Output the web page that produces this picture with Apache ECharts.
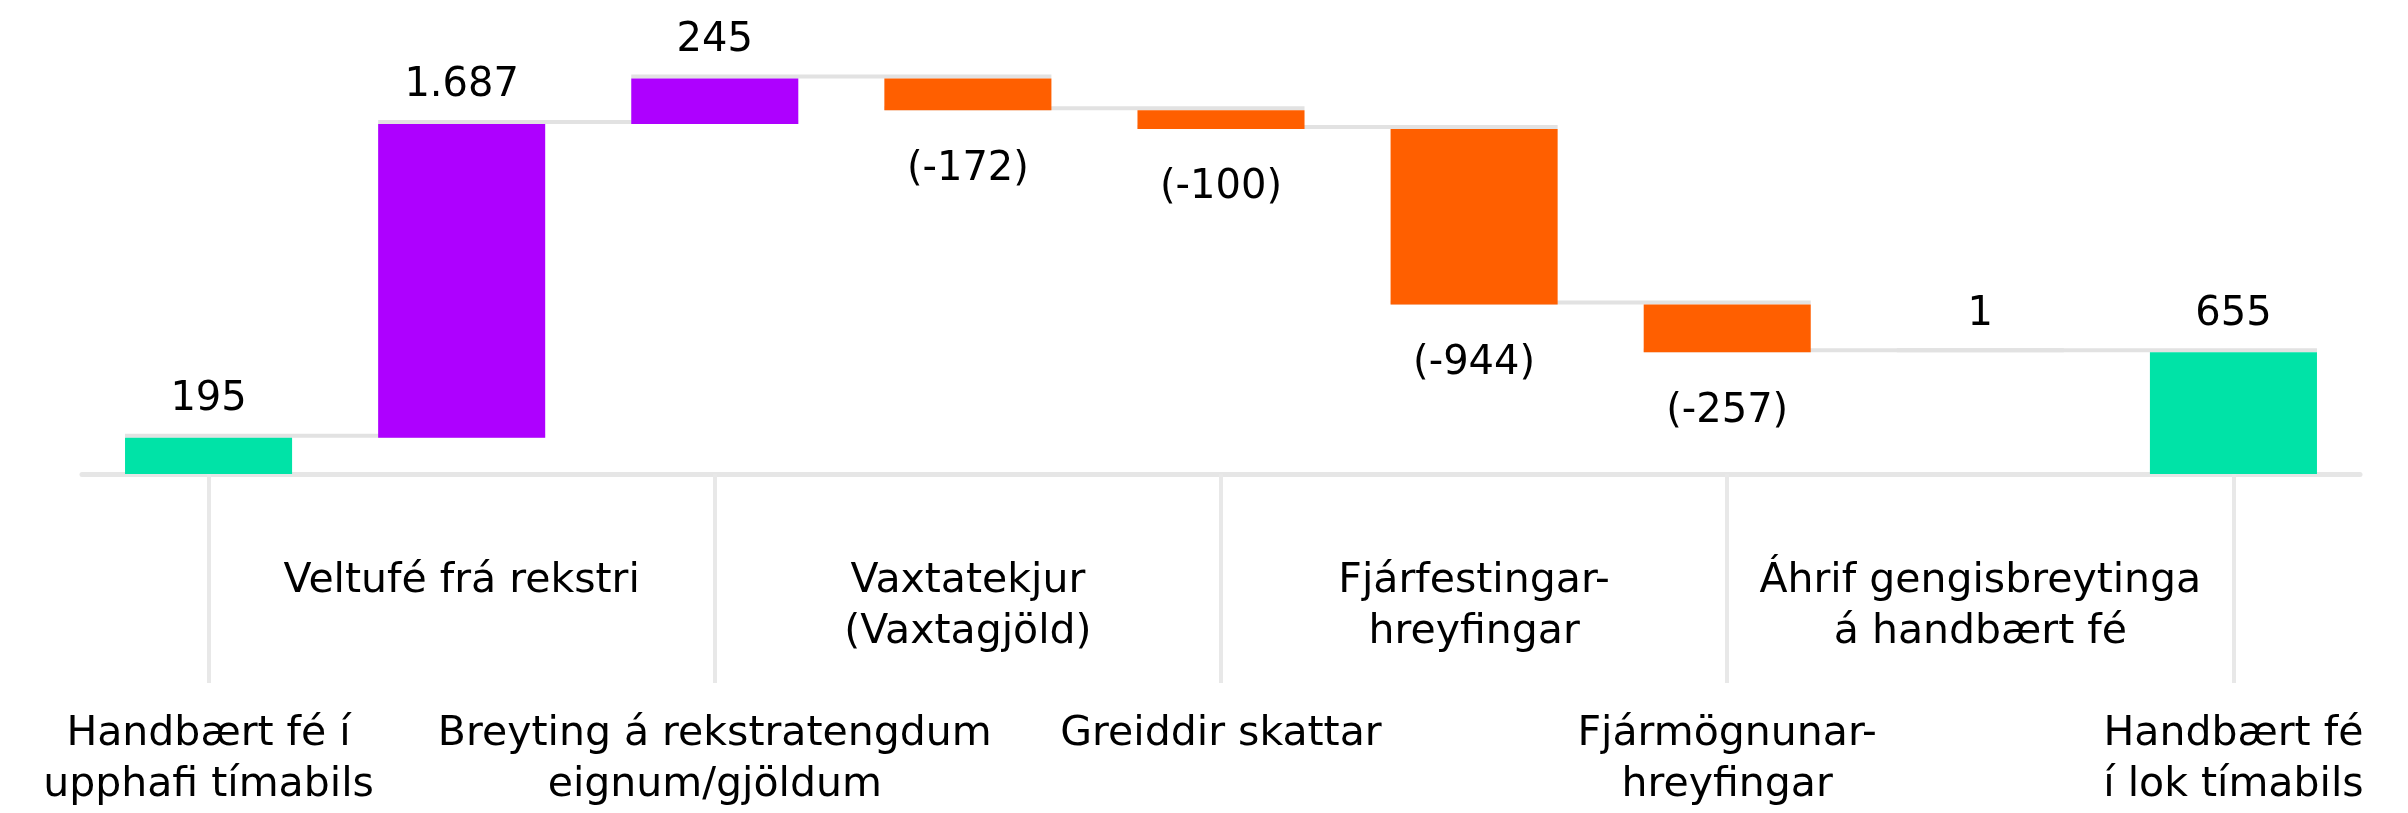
<!DOCTYPE html>
<html>
<head>
<meta charset="utf-8">
<script src="https://cdn.jsdelivr.net/npm/echarts@6/dist/echarts.min.js"></script>
<style>
html,body{margin:0;padding:0;background:#fff;}
#c{width:2408px;height:813px;}
</style>
</head>
<body>
<div id="c"></div>
<script>
const categories = [
  "Handbært fé í\nupphafi tímabils",
  "Veltufé frá rekstri",
  "Breyting á rekstratengdum\neignum/gjöldum",
  "Vaxtatekjur\n(Vaxtagjöld)",
  "Greiddir skattar",
  "Fjárfestingar-\nhreyfingar",
  "Fjármögnunar-\nhreyfingar",
  "Áhrif gengisbreytinga\ná handbært fé",
  "Handbært fé\ní lok tímabils"
];
const values = [195, 1687, 245, -172, -100, -944, -257, 1, 655];
const isTotal = [true, false, false, false, false, false, false, false, true];

const COLOR_TOTAL = '#00E3A7';
const COLOR_UP = '#AE00FF';
const COLOR_DOWN = '#FF5F00';
const FONT = 'DejaVu Sans';

// derived waterfall geometry (values only)
const base = [], height = [], levels = [];
let cum = 0;
values.forEach((v, i) => {
  if (isTotal[i]) {
    base.push(0); height.push(v); cum = v;
  } else if (v >= 0) {
    base.push(cum); height.push(v); cum += v;
  } else {
    base.push(cum + v); height.push(-v); cum += v;
  }
  levels.push(cum);
});

function fmt(v) {
  const s = Math.abs(v).toString().replace(/\B(?=(\d{3})+(?!\d))/g, '.');
  return v < 0 ? '(-' + s + ')' : s;
}

const chart = echarts.init(document.getElementById('c'));
chart.setOption({
  animation: false,
  grid: { left: 82, right: 48, top: 9, bottom: 339, containLabel: false },
  xAxis: {
    type: 'category',
    data: categories,
    axisLine: { show: true, lineStyle: { color: '#e6e6e6', width: 5 } },
    axisTick: {
      show: true,
      alignWithLabel: true,
      interval: (idx) => idx % 2 === 0,
      length: 209,
      lineStyle: { color: '#e8e8e8', width: 4 }
    },
    axisLabel: {
      interval: 0,
      margin: 82,
      fontFamily: FONT,
      fontSize: 41,
      lineHeight: 51,
      color: '#000',
      formatter: (val, idx) => idx % 2 === 0 ? '\n\n\n' + val : val
    },
    splitLine: { show: false }
  },
  yAxis: {
    type: 'value', min: 0, max: 2500, show: false,
    splitLine: { show: false }
  },
  series: [
    {
      type: 'custom',
      z: 1,
      renderItem: (params, api) => {
        const i = api.value(0);
        const lvl = api.value(1);
        const p = api.coord([i, lvl]);
        const band = api.size([1, 0])[0];
        const half = band * 0.33;
        return {
          type: 'line',
          shape: { x1: p[0] - half, y1: p[1] - 2, x2: p[0] + band + half, y2: p[1] - 2 },
          style: { stroke: '#e2e2e2', lineWidth: 4 }
        };
      },
      data: levels.slice(0, levels.length - 1).map((l, i) => [i, l]),
      silent: true
    },
    {
      type: 'bar', stack: 'w', z: 2,
      barWidth: '66%',
      itemStyle: { color: 'rgba(0,0,0,0)' },
      data: base,
      silent: true
    },
    {
      type: 'bar', stack: 'w', z: 2,
      barWidth: '66%',
      data: height.map((h, i) => ({
        value: h,
        itemStyle: { color: isTotal[i] ? COLOR_TOTAL : (values[i] >= 0 ? COLOR_UP : COLOR_DOWN) },
        label: {
          show: true,
          position: values[i] >= 0 ? 'top' : 'bottom',
          distance: values[i] >= 0 ? 18 : 39,
          formatter: fmt(values[i]),
          fontFamily: FONT,
          fontSize: 40,
          color: '#000'
        }
      }))
    }
  ]
});
</script>
</body>
</html>
